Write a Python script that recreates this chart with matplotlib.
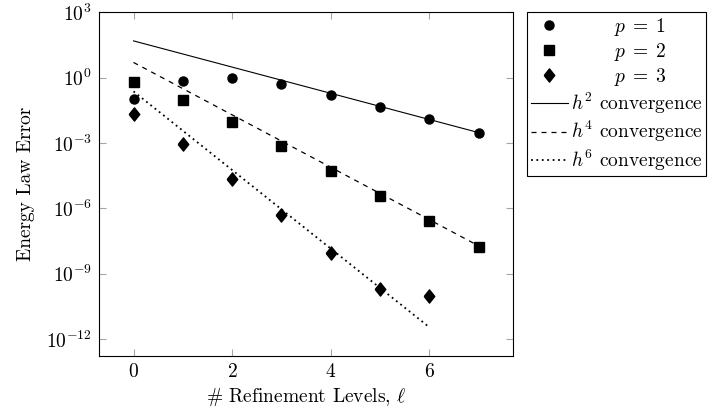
import numpy as np
import matplotlib
matplotlib.use("Agg")
import matplotlib.pyplot as plt

# --------------------------
# Datos
# --------------------------
niveles = [0, 1, 2, 3, 4, 5, 6, 7]
niveles_p3 = [0, 1, 2, 3, 4, 5, 6]

error_p1 = [1.0e-1, 7.0e-1, 1.0e0, 5.3e-1, 1.66e-1, 4.7e-2, 1.2e-2, 3.0e-3]
error_p2 = [6.6e-1, 9.8e-2, 9.5e-3, 7.1e-4, 5.2e-5, 3.8e-6, 2.6e-7, 1.7e-8]
error_p3 = [2.2e-2, 9.1e-4, 2.2e-5, 4.7e-7, 8.7e-9, 2.0e-10, 9.8e-11]

# constantes de las rectas de referencia  C * h^k, h = 2^-l
C_h2 = 10 ** 1.69
C_h4 = 10 ** 0.70
C_h6 = 10 ** -0.63
niveles_h6 = [0, 1, 2, 3, 4, 5, 6]

plt.rcParams['font.family'] = 'cmr10'
plt.rcParams['mathtext.fontset'] = 'cm'
plt.rcParams['axes.formatter.use_mathtext'] = True
plt.rcParams['font.size'] = 14

fig = plt.figure(figsize=(7.08, 4.12), dpi=100)
ax = fig.add_axes([0.1398, 0.1367, 0.725 - 0.1398, 0.970 - 0.1367])

h = 2.0 ** -np.array(niveles, dtype=float)
h6 = 2.0 ** -np.array(niveles_h6, dtype=float)

# rombo estilo pgfplots (más alto que ancho)
rombo = [(-0.8, 0), (0, 1), (0.8, 0), (0, -1), (-0.8, 0)]

ax.plot(niveles, error_p1, 'o', color='black', ms=6.5, label=r'$\qquad\;\; p\;=\;1$')
ax.plot(niveles, error_p2, 's', color='black', ms=6.5, label=r'$\qquad\;\; p\;=\;2$')
ax.plot(niveles_p3, error_p3, marker=rombo, ls='none', color='black', ms=9.5,
        label=r'$\qquad\;\; p\;=\;3$')
ax.plot(niveles, C_h2 * h ** 2, '-', color='black', lw=0.8, label=r'$h^2$ convergence')
ax.plot(niveles, C_h4 * h ** 4, color='black', lw=0.9, linestyle=(0, (4, 4)),
        label=r'$h^4$ convergence')
ax.plot(niveles_h6, C_h6 * h6 ** 6, color='black', lw=1.3, linestyle=(0, (1, 2)),
        label=r'$h^6$ convergence')

ax.set_yscale('log')
ax.set_xlim(-0.7, 7.7)
ax.set_ylim(10 ** -12.77, 1e3)
ax.set_xticks([0, 2, 4, 6])
ax.set_yticks([1e3, 1e0, 1e-3, 1e-6, 1e-9, 1e-12])
ax.minorticks_off()
ax.tick_params(direction='in', top=True, right=True, length=5, width=0.8,
               color='0.65', labelsize=14, pad=5)
for s in ax.spines.values():
    s.set_linewidth(0.8)

ax.set_xlabel(r'# Refinement Levels, $\ell$', labelpad=4)
ax.set_ylabel('Energy Law Error', labelpad=8)

leg = ax.legend(loc='upper left', bbox_to_anchor=(1.033, 1.0), borderaxespad=0,
                fancybox=False, edgecolor='black', framealpha=1, handlelength=1.9,
                handletextpad=0.15, borderpad=0.2, labelspacing=0.15, fontsize=14)
leg.get_frame().set_linewidth(0.8)

fig.savefig('out.png', dpi=100)
